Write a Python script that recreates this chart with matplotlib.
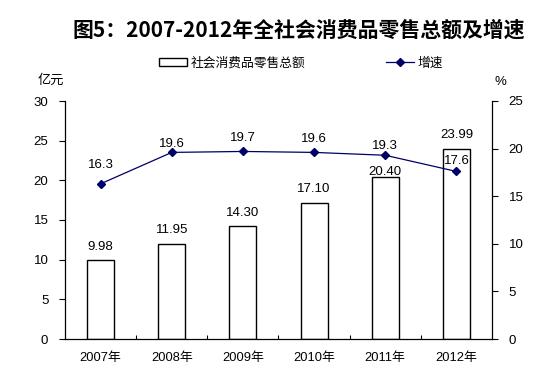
import matplotlib
matplotlib.use('Agg')
import matplotlib.pyplot as plt
import numpy as np

plt.rcParams['font.family'] = ['Liberation Sans', 'Noto Sans CJK SC', 'DejaVu Sans']

# data
years = ["2007年", "2008年", "2009年", "2010年", "2011年", "2012年"]
sales = [9.98, 11.95, 14.30, 17.10, 20.40, 23.99]      # 亿元
growth = [16.3, 19.6, 19.7, 19.6, 19.3, 17.6]          # %
sales_labels = ["9.98", "11.95", "14.30", "17.10", "20.40", "23.99"]

# label offsets (pixels above the mark)
bar_off = [13, 14, 13, 14, 5, 14]
line_off = [19, 8, 13, 13, 9, 10]

navy = "#000066"

fig = plt.figure(figsize=(5.38, 3.72), dpi=100)
fig.patch.set_facecolor("white")
ax = fig.add_axes([65/538, 1-339/372, (492-65)/538, (339-101)/372])
ax2 = ax.twinx()

x = np.arange(len(years))
bars = ax.bar(x, sales, width=0.38, color="white", edgecolor="black", linewidth=1.0,
              label="社会消费品零售总额", zorder=2)
for xi, v, s, o in zip(x, sales, sales_labels, bar_off):
    ax.annotate(s, (xi, v), xytext=(0, o), textcoords="offset pixels",
                ha="center", va="center", fontsize=9.5)

line, = ax2.plot(x, growth, color=navy, linewidth=0.9, marker="D", markersize=4,
                 label="增速", zorder=3)
for xi, v, o in zip(x, growth, line_off):
    ax2.annotate("%.1f" % v, (xi, v), xytext=(0, o), textcoords="offset pixels",
                 ha="center", va="center", fontsize=9.5)

ax.set_xlim(-0.5, len(years) - 0.5)
ax.set_ylim(0, 30)
ax.set_yticks(range(0, 31, 5))
ax2.set_ylim(0, 25)
ax2.set_yticks(range(0, 26, 5))

ax.set_xticks(x)
ax.set_xticklabels(years, fontsize=9.3)
ax.set_xticks(np.arange(0.5, len(years) - 0.5, 1), minor=True)
ax.tick_params(axis="x", which="major", length=0, pad=9)
ax.tick_params(axis="x", which="minor", length=3, direction="in", width=0.8)
ax.tick_params(axis="y", length=4, width=0.8, direction="out", labelsize=9.5, pad=8)
ax2.tick_params(axis="y", length=4, width=0.8, direction="out", labelsize=9.5, pad=8)

for a in (ax, ax2):
    a.spines["top"].set_visible(False)
    for s in a.spines.values():
        s.set_linewidth(0.9)
ax.spines["right"].set_visible(False)
ax2.spines["left"].set_visible(False)
ax2.spines["bottom"].set_visible(False)

fig.text(51/538, 1-80/372, "亿元", ha="center", va="center", fontsize=9.5,
         family=["Noto Sans CJK SC"])
fig.text(500/538, 1-82/372, "%", ha="center", va="center", fontsize=9.5)

fig.text(299/538, 1-30/372, "图5：2007-2012年全社会消费品零售总额及增速",
         ha="center", va="center", fontsize=15, fontweight="bold",
         family=["Noto Sans CJK SC", "DejaVu Sans"])

fig.legend([bars, line], ["社会消费品零售总额", "增速"], ncol=2, frameon=False,
           loc="center", bbox_to_anchor=(301/538, 1-63/372),
           handlelength=2.2, handleheight=0.5, columnspacing=6.3, handletextpad=0.3,
           prop={"family": ["Noto Sans CJK SC"], "size": 9.2})

fig.savefig("out.png", dpi=100, facecolor="white")
